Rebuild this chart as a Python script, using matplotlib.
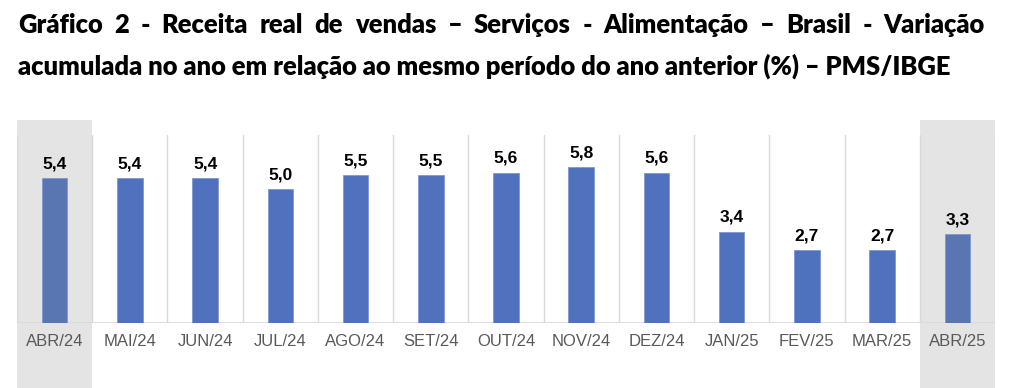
import matplotlib
matplotlib.use("Agg")
import matplotlib.pyplot as plt
from matplotlib.patches import Rectangle
import matplotlib.transforms as mtransforms

categories = ["ABR/24", "MAI/24", "JUN/24", "JUL/24", "AGO/24", "SET/24", "OUT/24",
              "NOV/24", "DEZ/24", "JAN/25", "FEV/25", "MAR/25", "ABR/25"]
values = [5.4, 5.4, 5.4, 5.0, 5.5, 5.5, 5.6, 5.8, 5.6, 3.4, 2.7, 2.7, 3.3]
highlight = [0, 12]

title_line1 = "Gráfico 2 - Receita real de vendas – Serviços - Alimentação – Brasil - Variação"
title_line2 = "acumulada no ano em relação ao mesmo período do ano anterior (%) – PMS/IBGE"

fig = plt.figure(figsize=(10.24, 3.88), dpi=100)
ax = fig.add_axes([17/1024, 1 - 323/388, 978/1024, 188/388])

n = len(categories)
x = list(range(n))
colors = ["#5a76b2" if i in highlight else "#4f71be" for i in x]
bars = ax.bar(x, values, width=0.34, color=colors, edgecolor="#7f98d2", linewidth=0.6, zorder=3)

ax.set_xlim(-0.5, n - 0.5)
ax.set_ylim(0, 7)

trans = mtransforms.blended_transform_factory(ax.transData, ax.transAxes)
for i in highlight:
    ax.add_patch(Rectangle((i - 0.5, -0.346), 1.0, 1.426, transform=trans,
                           facecolor="#e4e4e4", edgecolor="none", clip_on=False, zorder=0))

for b in range(n + 1):
    ax.plot([b - 0.5, b - 0.5], [0, 7], color="#d9d9d9", linewidth=1, zorder=1)
ax.axhline(0, color="#d9d9d9", linewidth=1.2, zorder=2)

for xi, v in zip(x, values):
    ax.text(xi, v + 0.25, f"{v:.1f}".replace(".", ","), ha="center", va="bottom",
            fontsize=12.5, fontweight="bold", family="Liberation Sans", color="#000000", zorder=4)

ax.set_xticks(x)
ax.set_xticklabels(categories, fontsize=12, family="Liberation Sans", color="#595959")
ax.tick_params(axis="x", length=0, pad=8)
ax.set_yticks([])
for s in ax.spines.values():
    s.set_visible(False)
ax.patch.set_alpha(0)

fig.canvas.draw()
renderer = fig.canvas.get_renderer()

# title line 2, sized to fit reference width
t2 = fig.text(18/1024, 1 - 75/388, title_line2, fontsize=14.5, fontweight="heavy", family="Lato",
              color="#000000", va="baseline")
w2 = t2.get_window_extent(renderer).width
fs = 14.5 * (948 - 18) / w2
t2.set_fontsize(fs)

# justified title line 1
words = title_line1.split(" ")
left_px, right_px = 18, 985
tobjs = [fig.text(0, 1 - 33/388, w, fontsize=fs, fontweight="heavy", family="Lato",
                  color="#000000", va="baseline") for w in words]
widths = [t.get_window_extent(renderer).width for t in tobjs]
gap = (right_px - left_px - sum(widths)) / (len(words) - 1)
pos = left_px
for t, w in zip(tobjs, widths):
    t.set_x(pos / 1024)
    pos += w + gap

fig.savefig("out.png", dpi=100, facecolor="white")
